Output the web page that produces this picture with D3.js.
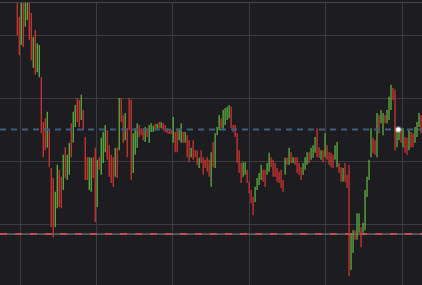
<!doctype html>
<html>
<head>
<meta charset="UTF-8">
<title>price bars</title>
<script src="https://d3js.org/d3.v7.min.js"></script>
<style>
  html, body { margin: 0; padding: 0; background: #1d1d21; overflow: hidden; }
  svg { display: block; }
</style>
</head>
<body>
<script>
// bar highs / lows (price units, gridlines every 10)
var high = [
  136.8,132.9,136.2,137.0,136.5,137.5,136.9,133.5,129.7,130.8,
  128.7,128.4,123.3,116.2,116.8,117.8,114.9,108.9,107.3,105.1,
  109.4,108.6,107.5,111.0,112.2,111.0,112.9,116.0,117.8,118.9,
  120.0,119.7,120.5,118.1,113.8,110.6,110.6,110.5,110.6,112.1,
  110.2,110.6,113.7,114.6,115.7,114.9,112.5,111.0,110.6,112.1,
  112.1,120.0,120.0,117.3,117.6,115.2,120.0,119.7,114.4,115.2,
  116.0,115.7,115.2,115.2,115.4,115.2,115.7,116.0,115.6,115.9,
  115.9,116.2,116.2,116.0,115.7,115.2,114.9,114.9,117.0,114.6,
  114.9,115.2,116.0,114.6,114.6,114.1,113.3,112.1,113.3,111.7,
  111.7,110.5,111.7,110.6,110.2,110.6,110.2,111.4,113.0,114.4,
  115.4,117.3,116.8,118.1,118.4,118.6,118.9,118.6,115.7,115.7,
  114.4,111.7,109.7,109.8,109.8,108.6,106.7,105.4,104.3,105.9,
  107.3,108.1,109.4,108.6,108.6,109.7,111.3,110.6,110.2,109.7,
  108.9,108.3,108.6,107.0,110.5,110.5,112.1,111.4,110.6,110.6,
  110.6,109.7,109.0,109.7,110.6,111.4,111.4,112.1,112.5,113.8,
  115.2,112.2,111.7,111.7,114.4,112.5,111.4,111.3,111.0,112.5,
  113.0,109.7,109.0,108.9,109.7,107.8,109.4,98.3,99.0,99.0,
  101.7,101.7,99.5,100.2,105.4,107.5,110.2,115.2,113.7,113.3,
  117.6,117.3,118.1,117.6,117.3,118.1,120.2,122.1,121.6,121.3,
  115.2,114.9,114.9,115.2,113.8,113.7,114.9,114.6,114.4,115.4,
  116.2,117.6,117.3
];
var low = [
  130.0,126.8,128.4,128.1,131.3,132.4,129.2,126.0,124.8,123.7,
  124.1,123.3,114.4,110.6,111.7,112.1,109.0,99.5,97.9,99.5,
  102.5,102.7,102.5,105.4,107.3,107.0,107.8,110.6,112.9,115.4,
  116.2,115.4,116.5,114.9,107.0,107.0,105.4,105.1,107.3,100.3,
  102.7,108.6,107.8,109.7,111.4,110.2,107.5,106.5,105.9,107.5,
  107.3,111.7,116.2,112.9,113.3,110.6,114.9,107.0,108.1,111.0,
  112.1,113.8,114.1,113.3,113.0,113.8,112.9,114.6,114.6,115.1,
  114.9,115.2,115.2,114.9,114.6,114.4,114.3,114.3,112.9,111.4,
  111.4,113.3,112.9,112.9,112.9,110.6,109.8,110.6,110.2,110.6,
  109.4,108.9,109.7,107.8,108.9,108.3,107.5,105.9,109.0,108.9,
  114.1,114.9,115.2,114.9,115.7,116.5,116.8,115.2,114.6,113.8,
  109.7,108.1,106.5,107.5,107.8,106.5,104.9,103.3,101.4,103.5,
  105.4,106.2,107.0,106.7,105.9,107.8,108.3,109.0,107.5,107.5,
  106.7,106.5,105.7,105.1,107.8,109.4,109.4,109.7,109.7,109.4,
  108.1,107.8,107.0,107.8,108.6,109.4,109.7,110.2,110.5,111.3,
  110.6,110.5,110.2,109.8,110.6,110.2,109.4,109.0,108.9,110.2,
  109.0,108.1,106.7,106.7,106.7,105.7,91.7,92.7,95.4,97.5,
  97.5,98.6,96.3,98.6,99.0,104.3,107.0,110.6,111.3,111.0,
  110.6,114.4,116.0,114.1,116.0,116.0,116.5,118.1,119.7,111.7,
  112.2,113.3,112.9,112.2,111.3,111.0,111.7,112.2,112.2,112.9,
  113.8,115.4,114.4
];
// 1 = closed up (green), 0 = closed down (red)
var dir = [
  0,0,1,0,1,1,0,0,1,0, 1,1,0,0,0,1,0,0,0,1,
  1,0,0,1,0,1,1,0,1,1, 0,0,1,0,0,0,1,1,0,0,
  1,0,1,1,1,0,0,0,0,1, 0,1,0,0,1,0,0,0,1,1,
  1,0,0,0,1,0,1,1,1,0, 1,0,1,0,0,0,0,0,1,0,
  0,1,1,0,1,0,0,1,0,0, 0,1,0,0,0,0,0,1,0,1,
  1,1,0,1,1,1,1,0,0,0, 0,0,0,1,1,0,0,0,0,1,
  1,1,1,0,0,1,1,0,0,0, 0,0,0,0,1,0,1,0,1,0,
  0,0,0,1,1,1,0,1,1,1, 0,0,1,0,1,0,0,0,0,1,
  1,0,0,1,0,0,0,1,1,0, 1,1,0,1,1,1,1,1,0,0,
  1,0,1,1,0,1,1,1,0,0, 1,1,0,1,0,0,1,0,0,1,
  1,1,0
];
var priceGrid = [100, 110, 120, 130];
var timeGrid = [1.15, 39.4, 77.65, 116, 154.15, 192.35];
var refLevel = 115.0;      // blue dashed
var supportLevel = 98.4;   // red dashed
var marker = {i: 190.65, v: 115.0};

var width = 422, height = 285;

var svg = d3.select("body").append("svg")
    .attr("width", width)
    .attr("height", height);

svg.append("rect")
    .attr("width", width).attr("height", height)
    .attr("fill", "#1d1d21");

var x = d3.scaleLinear().domain([0, high.length - 1]).range([17.3, 421]);
var y = d3.scaleLinear().domain([100, 130]).range([224, 35]);

svg.append("clipPath").attr("id", "plot")
  .append("rect").attr("x", 0).attr("y", 3).attr("width", width).attr("height", height - 3);

// grid
svg.append("g").selectAll("line")
    .data(priceGrid).enter().append("line")
    .attr("x1", 0).attr("x2", width)
    .attr("y1", function(d) { return Math.round(y(d)) + 0.5; })
    .attr("y2", function(d) { return Math.round(y(d)) + 0.5; })
    .attr("stroke", "#3b3b40").attr("stroke-width", 1);

svg.append("g").selectAll("line")
    .data(timeGrid).enter().append("line")
    .attr("x1", function(d) { return Math.round(x(d)) + 0.5; })
    .attr("x2", function(d) { return Math.round(x(d)) + 0.5; })
    .attr("y1", 2).attr("y2", height)
    .attr("stroke", "#3b3b40").attr("stroke-width", 1);

// top border
svg.append("line")
    .attr("x1", 0).attr("x2", width).attr("y1", 2.5).attr("y2", 2.5)
    .attr("stroke", "#44444a").attr("stroke-width", 1);

// support line: grey solid with red dashes
svg.append("line")
    .attr("x1", 0).attr("x2", width)
    .attr("y1", y(supportLevel)).attr("y2", y(supportLevel))
    .attr("stroke", "#8a8a8e").attr("stroke-width", 1);
svg.append("line")
    .attr("x1", 0).attr("x2", width)
    .attr("y1", y(supportLevel)).attr("y2", y(supportLevel))
    .attr("stroke", "#c2505a").attr("stroke-width", 2)
    .attr("stroke-dasharray", "7,8");

// bars
svg.append("g").attr("clip-path", "url(#plot)")
  .selectAll("line")
    .data(high).enter().append("line")
    .attr("x1", function(d, i) { return x(i); })
    .attr("x2", function(d, i) { return x(i); })
    .attr("y1", function(d) { return y(d); })
    .attr("y2", function(d, i) { return y(low[i]); })
    .attr("stroke", function(d, i) { return dir[i] ? "#5daf3f" : "#cf3530"; })
    .attr("stroke-width", 1.3);

// reference line
svg.append("line")
    .attr("x1", 0).attr("x2", width)
    .attr("y1", y(refLevel)).attr("y2", y(refLevel))
    .attr("stroke", "#3f5d7e").attr("stroke-width", 2)
    .attr("stroke-dasharray", "6,5");

// last point marker
svg.append("circle")
    .attr("cx", x(marker.i)).attr("cy", y(marker.v))
    .attr("r", 3.6).attr("fill", "#ffffff").attr("opacity", 0.25);
svg.append("circle")
    .attr("cx", x(marker.i)).attr("cy", y(marker.v))
    .attr("r", 2.3).attr("fill", "#ffffff");
</script>
</body>
</html>
